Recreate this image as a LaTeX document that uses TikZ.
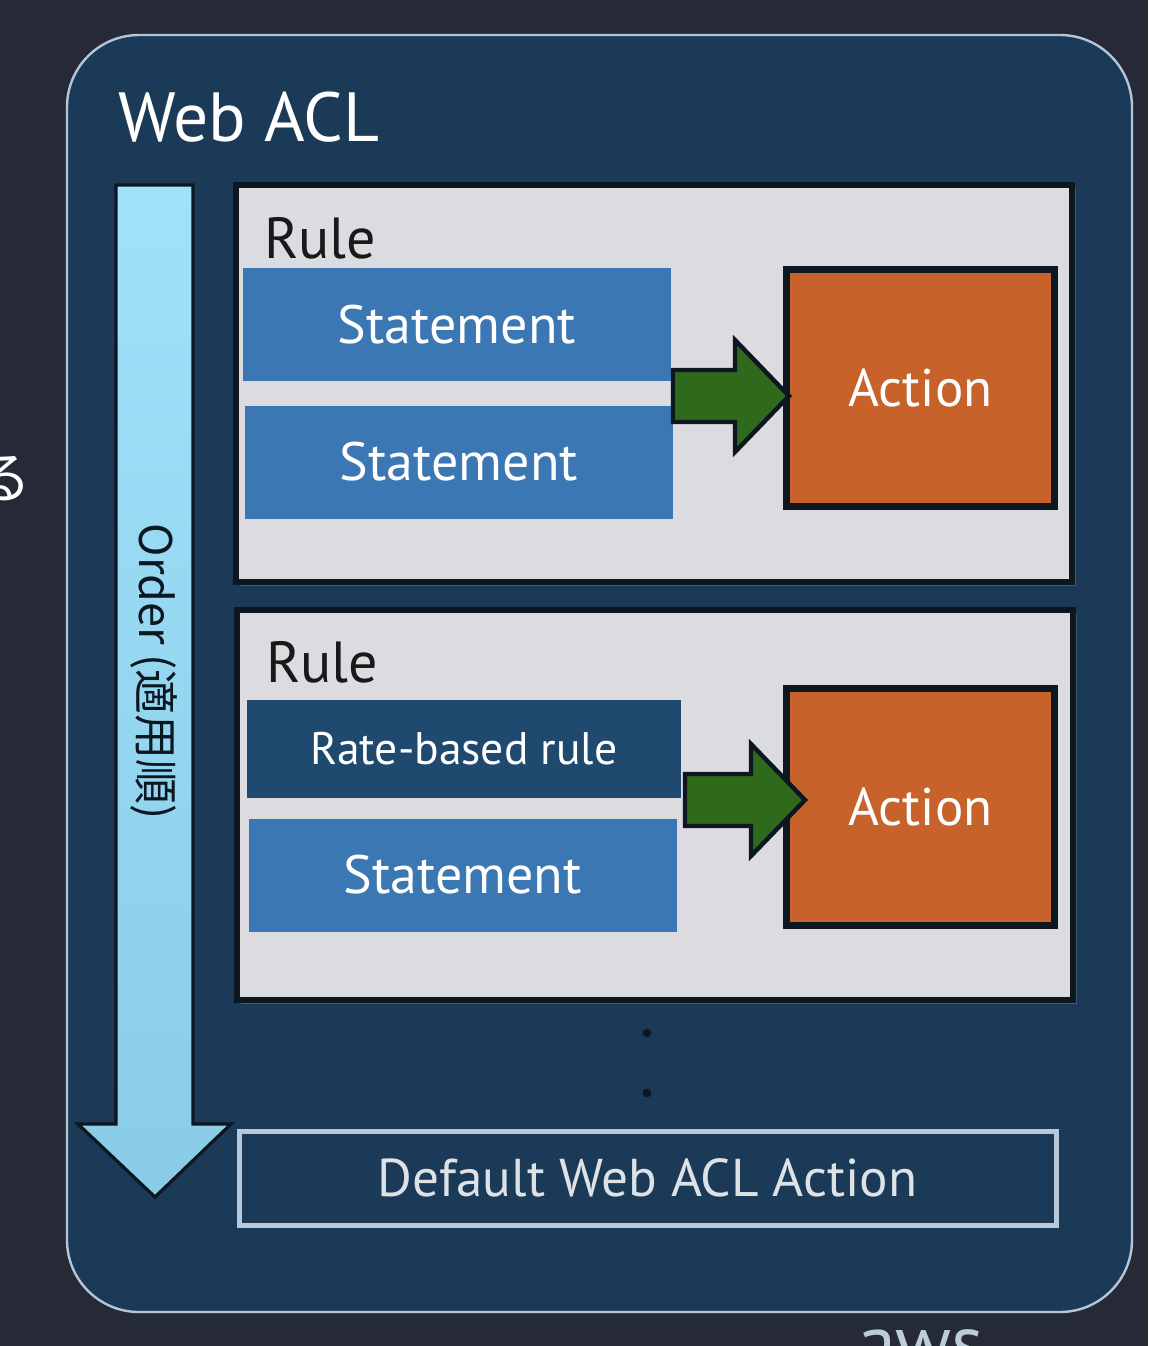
\documentclass[tikz,border=0pt]{standalone}
\usepackage{fontspec}
\setmainfont{PT Sans}
\newfontfamily\jpfont{Noto Sans CJK JP}
\usetikzlibrary{calc}
\usetikzlibrary{shadows}

\definecolor{bgdark}{HTML}{262A36}
\definecolor{aclblue}{HTML}{1B3A57}
\definecolor{aclline}{HTML}{B4C6D6}
\definecolor{edgedark}{HTML}{0C1722}
\definecolor{rulegray}{HTML}{DCDCE0}
\definecolor{stmtblue}{HTML}{3A77B3}
\definecolor{ratenavy}{HTML}{20496F}
\definecolor{actorange}{HTML}{C7622A}
\definecolor{gogreen}{HTML}{2F6A1C}
\definecolor{ordertop}{HTML}{A0E2FA}
\definecolor{orderbot}{HTML}{8ACBE6}
\definecolor{defline}{HTML}{B7C9D8}
\definecolor{deftext}{HTML}{DDE2E7}

\begin{document}
\begin{tikzpicture}[x=0.5pt,y=-0.5pt,
    acl box/.style={draw=aclline,line width=1.2pt,fill=aclblue,rounded corners=36pt,minimum width=532.5pt,minimum height=638.5pt},
    rule box/.style={draw=edgedark,line width=3pt,fill=rulegray,minimum width=418pt,
        drop shadow={shadow xshift=2pt,shadow yshift=-2pt,opacity=.45}},
    stmt/.style={fill=stmtblue,text=white,inner sep=0pt,minimum width=214pt,minimum height=56.5pt,
        font=\fontsize{27}{31}\selectfont},
    rate/.style={stmt,fill=ratenavy,minimum width=217pt,minimum height=49pt,font=\fontsize{22.8}{26}\selectfont},
    action/.style={draw=edgedark,line width=3.5pt,fill=actorange,text=white,minimum width=134pt,minimum height=118.5pt,
        font=\fontsize{26.5}{30}\selectfont,drop shadow={shadow xshift=1.5pt,shadow yshift=-1.5pt,opacity=.35}},
    rule label/.style={anchor=base west,inner sep=0pt,text=black!90,font=\fontsize{29}{34}\selectfont},
    go arrow/.style={draw=edgedark,line width=2.2pt,fill=gogreen,line join=miter},
    order arrow/.style={draw=edgedark,line width=1.6pt,top color=ordertop,bottom color=orderbot},
    default box/.style={draw=defline,line width=2.5pt,fill=aclblue,text=deftext,minimum width=408.5pt,minimum height=47pt,
        font=\fontsize{26.6}{30}\selectfont,drop shadow={shadow xshift=1pt,shadow yshift=-1.5pt,opacity=.5}}
]
    \clip (0,0) rectangle (1148,1346);
    \fill[bgdark] (0,0) rectangle (1148,1346);

    \node[text=white,font=\jpfont\fontsize{28}{30}\selectfont] (ru) at (3,479) {る};
    \node[anchor=base west,text=aclline!90,font=\fontsize{38}{42}\selectfont] (aws) at (851,1368) {aws};

    \node[acl box] (acl) at (599.5,673.5) {};
    \node[anchor=base west,inner sep=0pt,text=white,font=\fontsize{34.8}{40}\selectfont] (title) at (118,141) {Web ACL};

    \draw[order arrow] (116,185) -- (193,185) -- (193,1124) -- (231,1124) -- (155,1197) -- (78,1124) -- (116,1124) -- cycle;
    \node[rotate=-90,text=edgedark,font=\jpfont\fontsize{22.5}{24}\selectfont] (order) at (154,672) {Order (適用順)};

    \node[rule box,minimum height=198.5pt] (rule1) at (654,383.5) {};
    \node[rule label] (rl1) at (264,258) {Rule};
    \node[stmt] (s1) at (457,324.5) {Statement};
    \node[stmt] (s2) at (459,462) {Statement};
    \node[action] (act1) at (920.5,388) {Action};

    \node[rule box,minimum height=195pt] (rule2) at (654.5,805) {};
    \node[rule label] (rl2) at (266,682) {Rule};
    \node[rate] (rate) at (464,749) {Rate-based rule};
    \node[stmt] (s3) at (462.5,875) {Statement};
    \node[action] (act2) at (920.5,806.5) {Action};

    \coordinate (g1s) at (673,396);
    \coordinate (g1e) at (789,396);
    \coordinate (g2s) at (685,800);
    \coordinate (g2e) at (805,800);
    \foreach \s/\e in {g1s/g1e,g2s/g2e}
        \draw[go arrow] let \p1=(\s), \p2=(\e) in
            (\x1,\y1+13pt) -- (\x2-27pt,\y1+13pt) -- (\x2-27pt,\y1+28pt) -- (\x2,\y1)
            -- (\x2-27pt,\y1-28pt) -- (\x2-27pt,\y1-13pt) -- (\x1,\y1-13pt) -- cycle;

    \foreach \y/\n in {1033/d1,1093/d2}
        \fill[edgedark] (647,\y) circle (2.2pt) coordinate (\n);

    \node[default box] (def) at (647.5,1178) {Default Web ACL Action};
\end{tikzpicture}
\end{document}
